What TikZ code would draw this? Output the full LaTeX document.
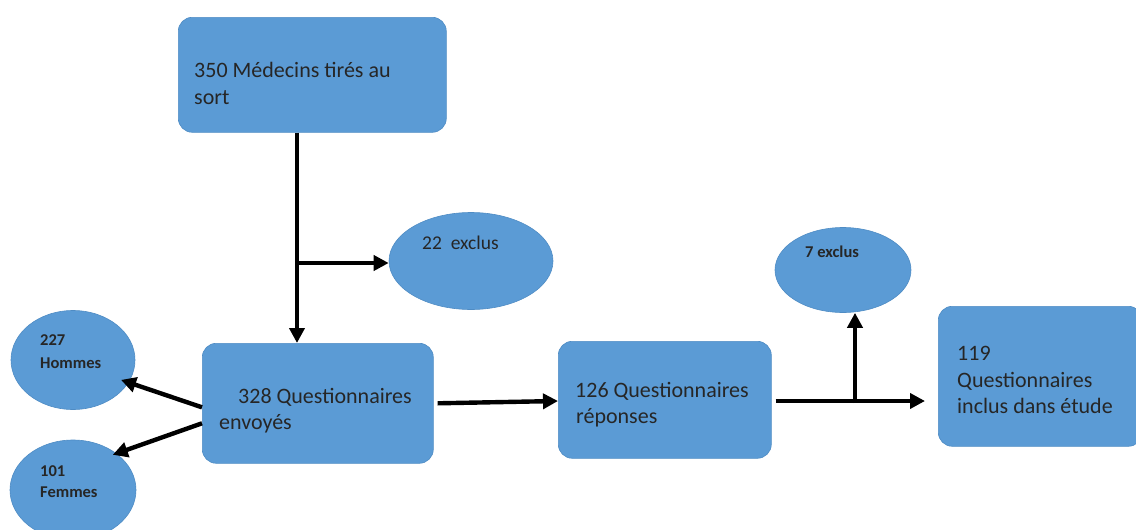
\documentclass[tikz,border=0pt]{standalone}
\usepackage{fontspec}
\setmainfont{Carlito}
\usetikzlibrary{arrows.meta,shapes.geometric}
\definecolor{boxblue}{HTML}{5B9BD5}
\definecolor{edgeblue}{HTML}{4F8CC4}
\tikzset{
  box/.style={draw=edgeblue, line width=0.6pt, fill=boxblue, rounded corners=14pt, anchor=north west, inner sep=0pt},
  oval/.style={ellipse, draw=edgeblue, line width=0.6pt, fill=boxblue, inner sep=0pt},
  big/.style={anchor=base west, inner sep=0pt, font=\fontsize{22}{27}\selectfont, text=black!85},
  mid/.style={anchor=base west, inner sep=0pt, font=\fontsize{19.5}{23}\selectfont, text=black!85},
  small/.style={anchor=base west, inner sep=0pt, font=\fontsize{16.5}{19}\selectfont\bfseries, text=black!85},
  arr/.style={line width=4.4pt, -{Triangle[length=15pt,width=15pt]}},
  seg/.style={line width=4.4pt}
}
\begin{document}
\begin{tikzpicture}[x=1pt,y=-1pt]
\useasboundingbox (0,0) rectangle (1136,530);
% boxes
\node[box, minimum width=268pt, minimum height=115pt] (b1) at (178,17) {};
\node[box, minimum width=231pt, minimum height=120pt] (b2) at (202,343) {};
\node[box, minimum width=213pt, minimum height=117pt] (b3) at (558,341) {};
\node[box, minimum width=204pt, minimum height=140pt] (b4) at (938,306) {};
% ellipses
\node[oval, minimum width=164pt, minimum height=97pt] (e22) at (471,261) {};
\node[oval, minimum width=136pt, minimum height=85pt] (e7) at (843,270) {};
\node[oval, minimum width=124pt, minimum height=99pt] (eh) at (73,360) {};
\node[oval, minimum width=126pt, minimum height=100pt] (ef) at (73,490) {};
% texts
\node[big] (t1a) at (194,77) {350 Médecins tirés au};
\node[big] (t1b) at (194,104) {sort};
\node[big] (t2a) at (238,403) {328 Questionnaires};
\node[big] (t2b) at (219,429) {envoyés};
\node[big] (t3a) at (575,397) {126 Questionnaires};
\node[big] (t3b) at (576,423) {réponses};
\node[big] (t4a) at (957,360) {119};
\node[big] (t4b) at (957,387) {Questionnaires};
\node[big] (t4c) at (957,413) {inclus dans étude};
\node[mid] (t22) at (422,249) {22\ \ exclus};
\node[small] (t7) at (805,257) {7 exclus};
\node[small] (th1) at (40,345) {227};
\node[small] (th2) at (40,368) {Hommes};
\node[small] (tf1) at (40,476) {101};
\node[small] (tf2) at (40,497) {Femmes};
% connectors
\coordinate (j1) at (297,263);
\coordinate (j2) at (855,401);
\draw[arr] (b1.south -| j1) -- (b2.north -| j1);
\draw[arr] (j1) -- (e22.west |- j1);
\draw[arr, shorten >=-8pt] ([yshift=-4pt]b2.west) -- (eh.-22);
\draw[arr, shorten >=-4pt] ([yshift=-20pt]b2.west) -- (ef.40);
\draw[arr] ([xshift=4pt]b2.east) -- (b3.west |- j2);
\draw[seg] ([xshift=4pt]b3.east |- j2) -- (j2);
\draw[arr] (j2) -- ([xshift=-13pt]b4.west |- j2);
\draw[arr] ([yshift=-2pt]j2) -- (e7.south -| j2);
\end{tikzpicture}
\end{document}
